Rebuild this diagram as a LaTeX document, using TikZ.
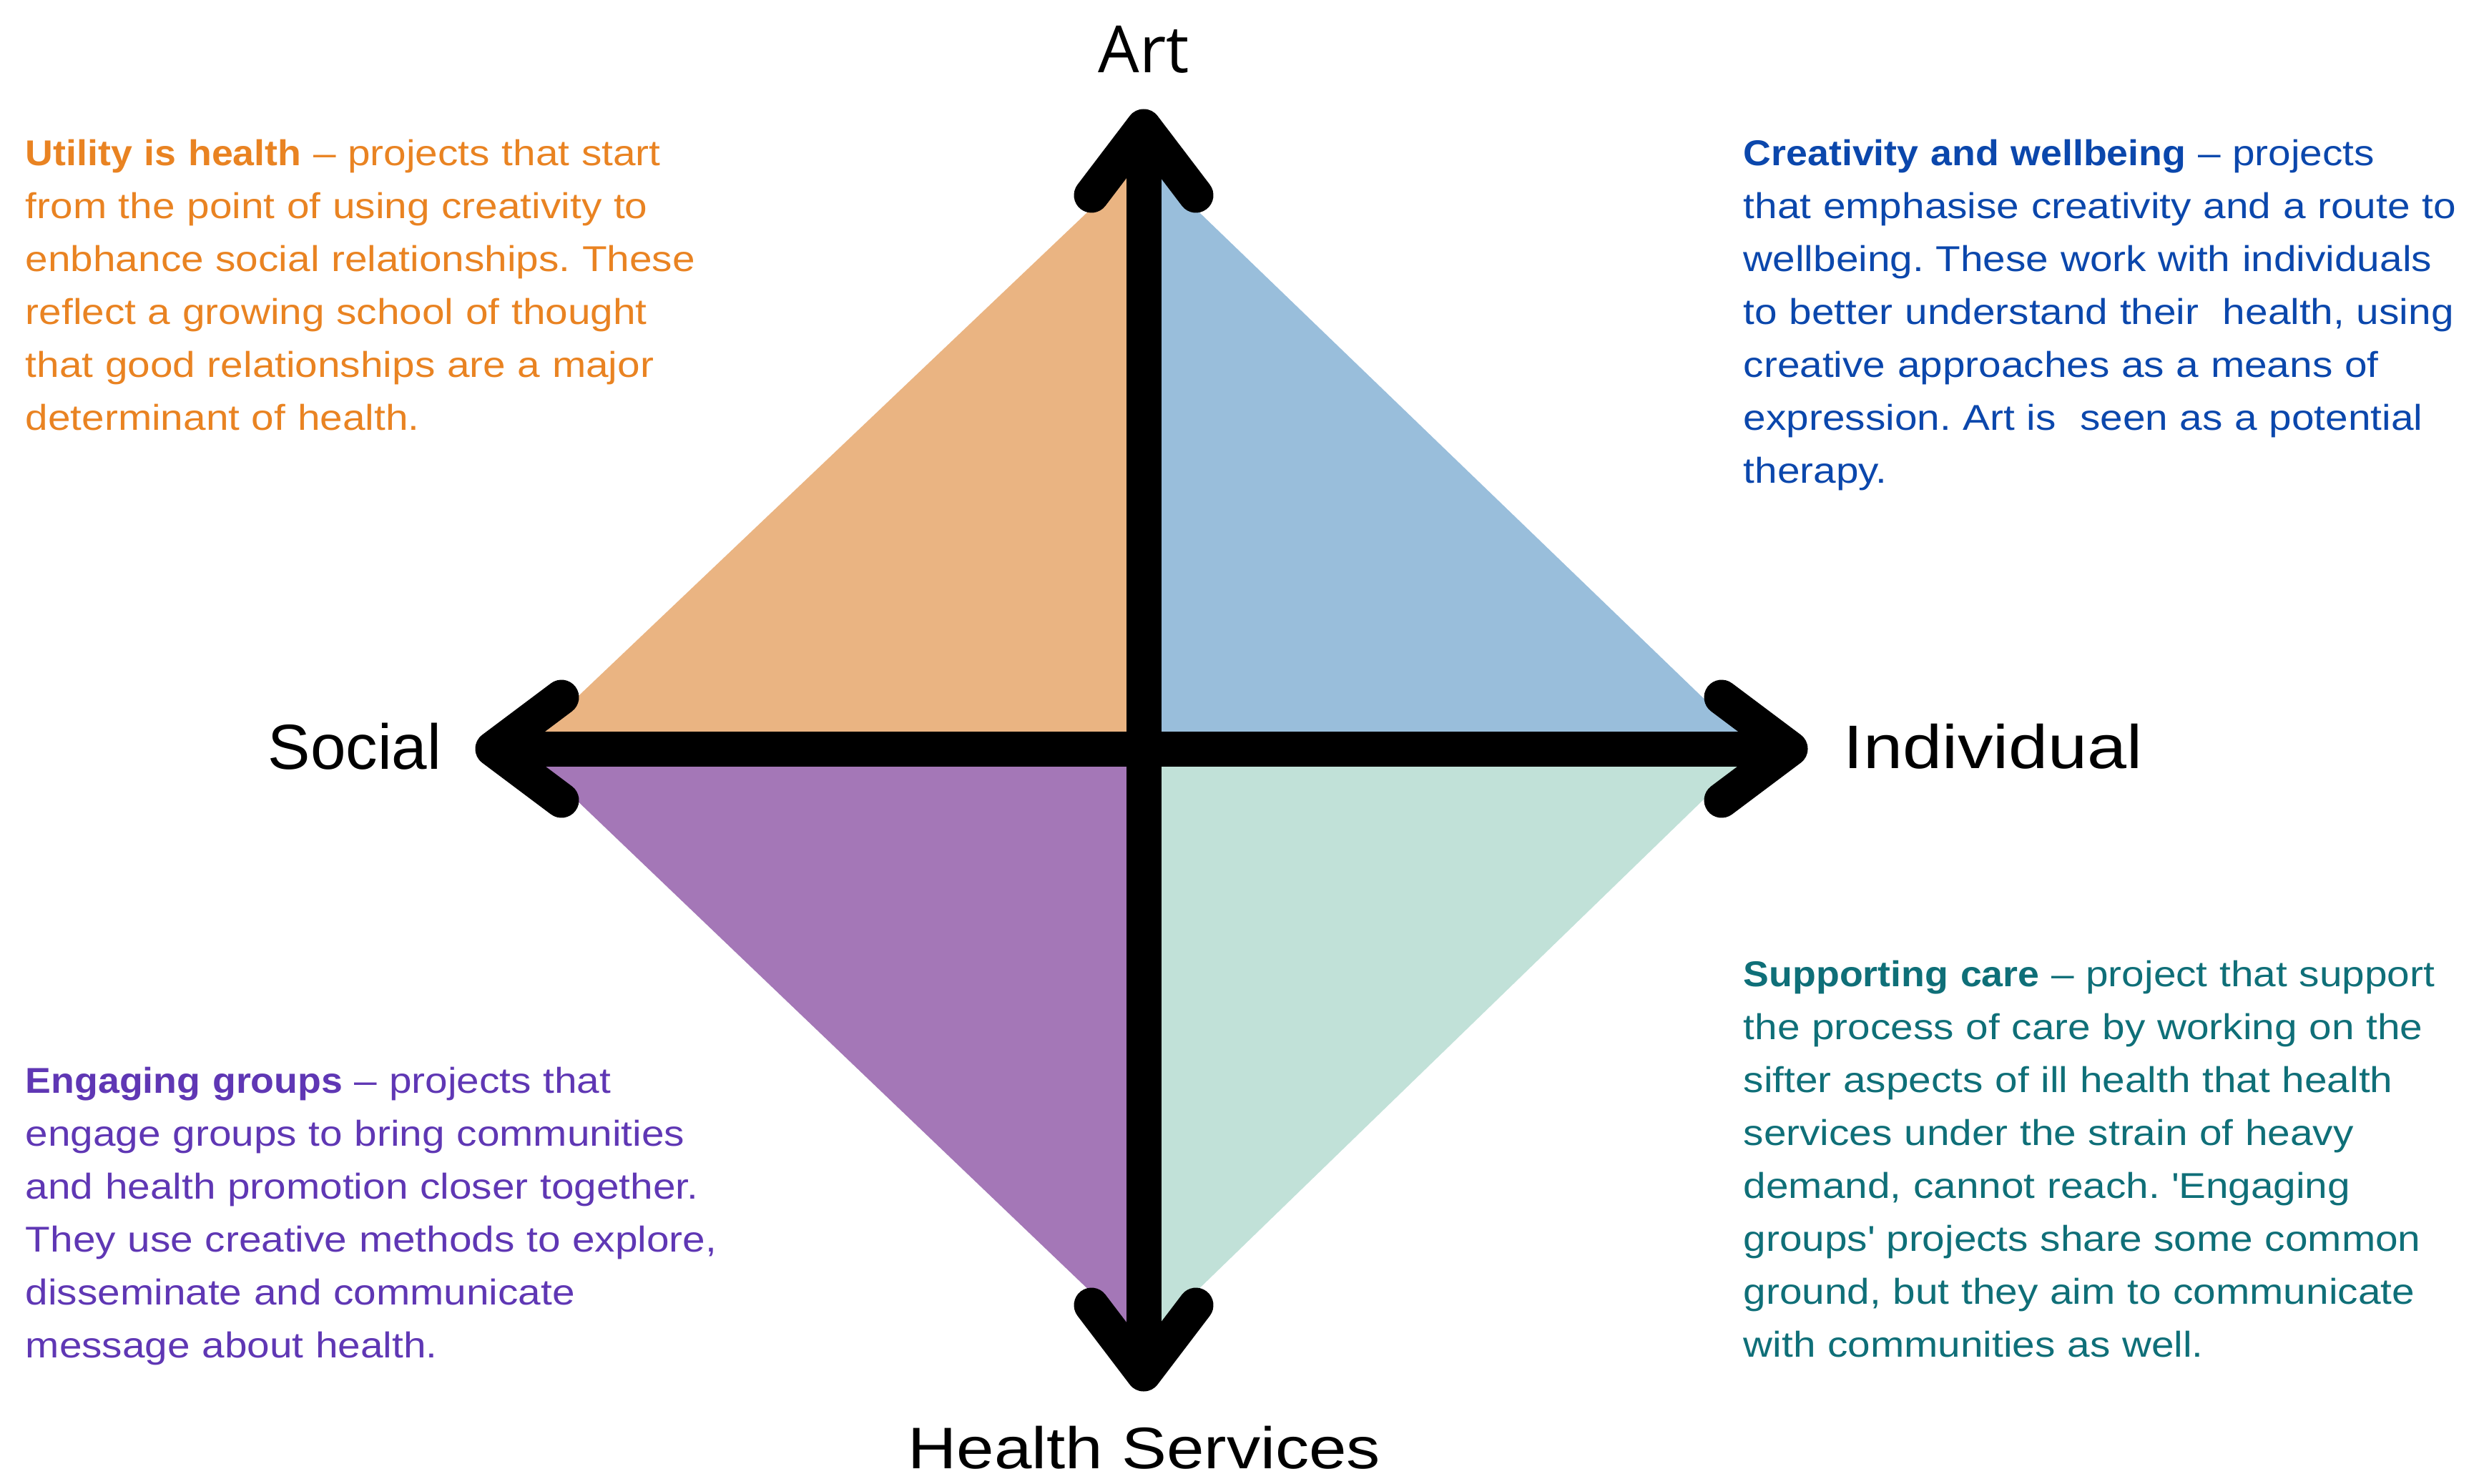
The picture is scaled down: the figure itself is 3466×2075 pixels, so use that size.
\documentclass[tikz,border=0pt]{standalone}
\usepackage{fontspec}
\newfontfamily\bodyfont{Liberation Sans}[FakeStretch=1.13, BoldFeatures={FakeStretch=1.07}]
\newfontfamily\labelfont{Liberation Sans}[FakeStretch=1.15]
\newfontfamily\plainfont{Liberation Sans}
\newfontfamily\artfont{Open Sans}
\definecolor{orangeF}{HTML}{EAB482}
\definecolor{blueF}{HTML}{99BEDB}
\definecolor{purpleF}{HTML}{A477B7}
\definecolor{mintF}{HTML}{C1E1D8}
\definecolor{orangeT}{HTML}{E98322}
\definecolor{blueT}{HTML}{0B47AC}
\definecolor{purpleT}{HTML}{5F37B4}
\definecolor{tealT}{HTML}{0F6F78}
\frenchspacing
\begin{document}
\begin{tikzpicture}[x=0.25pt,y=-0.25pt,
  desc/.style={anchor=base west, text width=300pt, align=left, inner sep=0pt,
    font=\bodyfont\fontsize{12.55}{18.5}\selectfont},
  axisline/.style={line width=12.25pt, black},
  headline/.style={line width=12.25pt, black, line cap=round, line join=round},
  lbl/.style={inner sep=0pt, black}]
\useasboundingbox (0,0) rectangle (3466,2075);
% diamond vertices
\coordinate (C) at (1599,1047);
\coordinate (T) at (1599,222);
\coordinate (L) at (731,1047);
\coordinate (R) at (2455,1047);
\coordinate (B) at (1599,1877);
\fill[orangeF] (C) -- (L) -- (T) -- cycle;
\fill[blueF] (C) -- (T) -- (R) -- cycle;
\fill[purpleF] (C) -- (L) -- (B) -- cycle;
\fill[mintF] (C) -- (R) -- (B) -- cycle;
% arrow tips
\coordinate (tipT) at (1599,177);
\coordinate (tipB) at (1599,1921);
\coordinate (tipL) at (689,1047);
\coordinate (tipR) at (2503,1047);
\draw[axisline] (tipT) -- (tipB);
\draw[axisline] (tipL) -- (tipR);
\draw[headline] (1526,273) -- (tipT) -- (1672,273);
\draw[headline] (1526,1825) -- (tipB) -- (1672,1825);
\draw[headline] (785,975) -- (tipL) -- (785,1119);
\draw[headline] (2407,975) -- (tipR) -- (2407,1119);
% axis labels
\node[lbl, anchor=base, font=\artfont\fontsize{22.75}{26}\selectfont] (art) at (1599,102) {Art};
\node[lbl, anchor=base east, font=\plainfont\fontsize{22.25}{26}\selectfont] (social) at (618,1075) {Social};
\node[lbl, anchor=base west, font=\labelfont\fontsize{21.5}{26}\selectfont] (indiv) at (2577,1074) {Individual};
\node[lbl, anchor=base, font=\labelfont\fontsize{20.5}{26}\selectfont] (health) at (1600,2053) {Health Services};
% descriptions
\node[desc, text=orangeT] (util) at (35,232) {\textbf{Utility is health} – projects that start\\
from the point of using creativity to\\
enbhance social relationships. These\\
reflect a growing school of thought\\
that good relationships are a major\\
determinant of health.};
\node[desc, text=blueT] (creat) at (2437,232) {\textbf{Creativity and wellbeing} – projects\\
that emphasise creativity and a route to\\
wellbeing. These work with individuals\\
to better understand their\ \ health, using\\
creative approaches as a means of\\
expression. Art is\ \ seen as a potential\\
therapy.};
\node[desc, text=purpleT] (engage) at (35,1528) {\textbf{Engaging groups} – projects that\\
engage groups to bring communities\\
and health promotion closer together.\\
They use creative methods to explore,\\
disseminate and communicate\\
message about health.};
\node[desc, text=tealT] (support) at (2437,1379) {\textbf{Supporting care} – project that support\\
the process of care by working on the\\
sifter aspects of ill health that health\\
services under the strain of heavy\\
demand, cannot reach. \textquotesingle Engaging\\
groups\textquotesingle\ projects share some common\\
ground, but they aim to communicate\\
with communities as well.};
\end{tikzpicture}
\end{document}
